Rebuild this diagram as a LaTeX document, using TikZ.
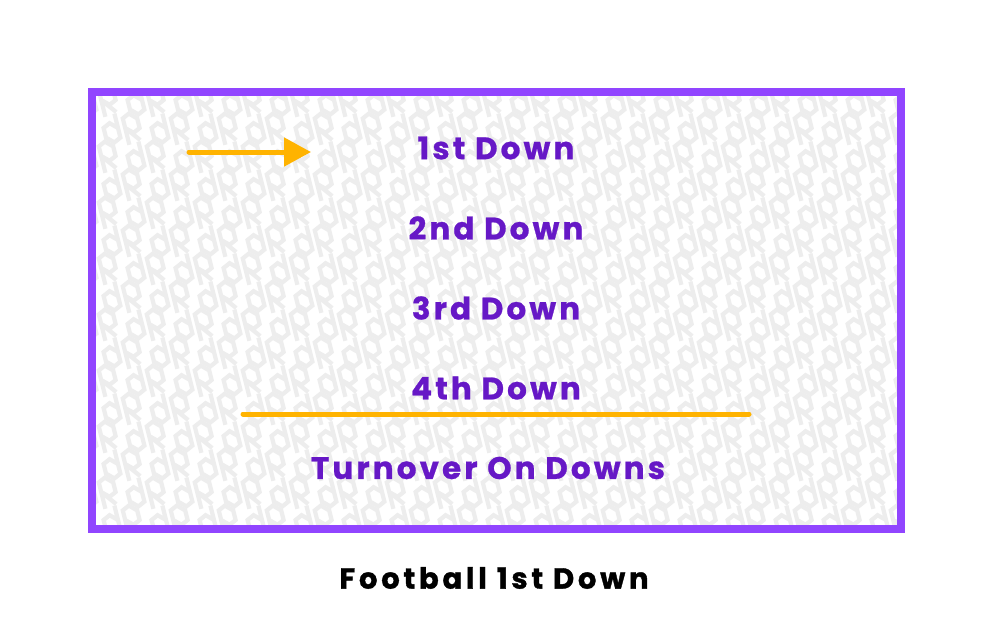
\documentclass[tikz,border=0pt]{standalone}
\usepackage{fontspec}
\setmainfont{Poppins}[UprightFont=* Bold, BoldFont=* Bold]
\usetikzlibrary{arrows.meta}
\definecolor{framepurple}{HTML}{9145FF}
\definecolor{textpurple}{HTML}{6618C6}
\definecolor{gold}{HTML}{FFB300}
\definecolor{patgray}{HTML}{EDEDED}
\tikzset{
  lbl/.style={text=textpurple, font=\fontsize{31}{35}\selectfont\addfontfeatures{LetterSpace=10,FakeBold=0.8}, inner sep=0pt, anchor=center},
  goldline/.style={draw=gold, line width=5pt, line cap=round},
  motif/.style={draw=patgray, line width=4.2pt, line join=miter},
}
\begin{document}
\begin{tikzpicture}[x=1pt,y=-1pt]
\useasboundingbox (0,0) rectangle (993,622);
\fill[white] (0,0) rectangle (993,622);
\begin{scope}
\clip (96,96) rectangle (897,525);
\foreach \r in {0,...,16} {
  \foreach \c in {0,...,17} {
    \pgfmathsetmacro{\xo}{96+\c*48+mod(\r,2)*24-14}
    \pgfmathsetmacro{\yo}{96+\r*28+4}
    \begin{scope}[shift={(\xo,\yo)}, xslant=-0.25, scale=1.2]
      \draw[motif] (10,-12) -- (10,8) -- (4,12) -- (-2,8) -- (-2,0) -- (4,-4) -- (10,0);
      \draw[motif] (16,14) -- (16,-8) -- (22,-12) -- (28,-8) -- (28,0) -- (22,4) -- (16,0) -- (26,10);
    \end{scope}
  }
}
\end{scope}
\node[draw=framepurple, line width=8pt, minimum width=809pt, minimum height=437pt, inner sep=0pt] (frame) at (496.5,310.5) {};
\node[lbl] (d1) at (496,148) {1st Down};
\node[lbl] (d2) at (496,228) {2nd Down};
\node[lbl] (d3) at (496,308) {3rd Down};
\node[lbl] (d4) at (496,388) {4th Down};
\node[lbl] (tod) at (488,468) {Turnover On Downs};
\node[text=black, font=\fontsize{29}{33}\selectfont\addfontfeatures{LetterSpace=13,FakeBold=1.2}, inner sep=0pt] (title) at (494,578) {Football 1st Down};
\coordinate (as) at (189,152);
\coordinate (ae) at (311,152);
\draw[goldline, -{Triangle[length=27pt,width=28pt]}] (as) -- (ae);
\coordinate (ls) at (243,414);
\coordinate (le) at (749,414);
\draw[goldline] (ls) -- (le);
\end{tikzpicture}
\end{document}
